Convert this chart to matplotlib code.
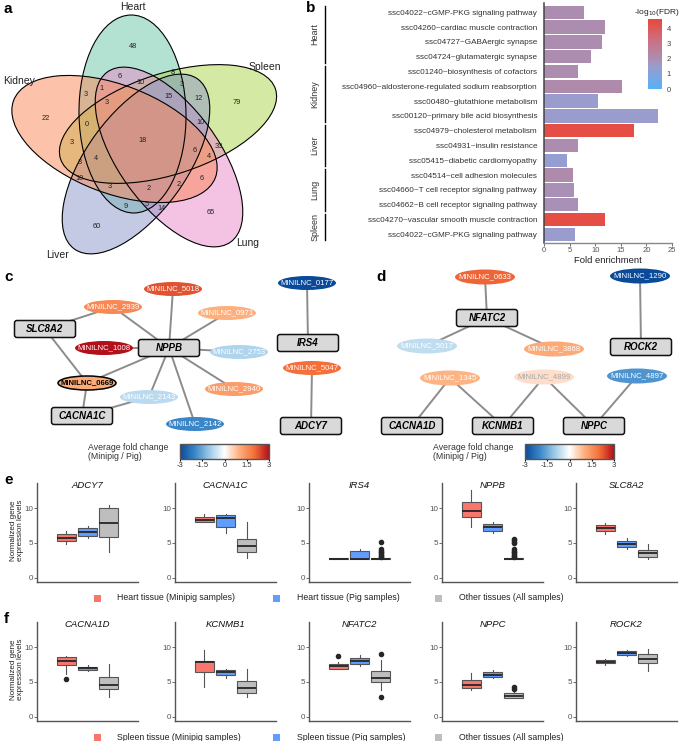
import numpy as np
import matplotlib
matplotlib.use('Agg')
import matplotlib.pyplot as plt
from matplotlib.patches import Ellipse, FancyBboxPatch, Rectangle
from matplotlib.colors import LinearSegmentedColormap, Normalize
from matplotlib.cm import ScalarMappable
import matplotlib.transforms as mtransforms

plt.rcParams['font.family'] = ['Liberation Sans', 'DejaVu Sans']

# ---------------- data ----------------
# a: venn
venn_sets = ['Heart', 'Spleen', 'Lung', 'Liver', 'Kidney']
venn_colors = ['#6bc7a7', '#abd54b', '#eb87c9', '#8b97c9', '#fb8957']
venn_counts = [48, 8, 6, 10, 3, 3, 1, 15, 12, 79, 3, 22, 0, 10, 18, 3,
               33, 6, 4, 3, 4, 10, 6, 3, 2, 2, 9, 5, 14, 65, 60]

# b: KEGG enrichment
pathways = ['ssc04022~cGMP-PKG signaling pathway',
            'ssc04260~cardiac muscle contraction',
            'ssc04727~GABAergic synapse',
            'ssc04724~glutamatergic synapse',
            'ssc01240~biosynthesis of cofactors',
            'ssc04960~aldosterone-regulated sodium reabsorption',
            'ssc00480~glutathione metabolism',
            'ssc00120~primary bile acid biosynthesis',
            'ssc04979~cholesterol metabolism',
            'ssc04931~insulin resistance',
            'ssc05415~diabetic cardiomyopathy',
            'ssc04514~cell adhesion molecules',
            'ssc04660~T cell receptor signaling pathway',
            'ssc04662~B cell receptor signaling pathway',
            'ssc04270~vascular smooth muscle contraction',
            'ssc04022~cGMP-PKG signaling pathway']
fold_enrichment = [7.8, 11.9, 11.3, 9.2, 6.7, 15.2, 10.5, 22.2,
                   17.5, 6.7, 4.4, 5.6, 5.9, 6.7, 12.0, 6.1]
neg_log_fdr = [2.0, 2.0, 2.0, 2.0, 2.0, 2.1, 1.5, 1.5,
               4.4, 2.0, 1.4, 2.1, 1.9, 1.9, 4.4, 1.5]
pathway_groups = ['Heart', 'Kidney', 'Liver', 'Lung', 'Spleen']
group_sizes = [4, 4, 3, 3, 2]

# c / d: networks (fold change minipig / pig)
c_lnc = ['MINILNC_5018', 'MINILNC_2939', 'MINILNC_0971', 'MINILNC_1008',
         'MINILNC_2753', 'MINILNC_0669', 'MINILNC_2940', 'MINILNC_2143',
         'MINILNC_2142', 'MINILNC_0177', 'MINILNC_5047']
c_fc = [2.3, 1.6, 1.0, 3.0, -0.8, 1.1, 1.3, -0.7, -2.0, -3.0, 2.0]
c_genes = ['SLC8A2', 'NPPB', 'CACNA1C', 'IRS4', 'ADCY7']
c_edges = [('MINILNC_5018', 'NPPB'), ('MINILNC_2939', 'NPPB'), ('MINILNC_2939', 'SLC8A2'),
           ('MINILNC_0971', 'NPPB'), ('MINILNC_1008', 'NPPB'), ('MINILNC_2753', 'NPPB'),
           ('MINILNC_2940', 'NPPB'), ('MINILNC_2143', 'NPPB'), ('MINILNC_2142', 'NPPB'),
           ('MINILNC_0669', 'NPPB'), ('MINILNC_0669', 'SLC8A2'), ('MINILNC_0669', 'CACNA1C'),
           ('MINILNC_2143', 'CACNA1C'), ('MINILNC_0177', 'IRS4'), ('MINILNC_5047', 'ADCY7')]

d_lnc = ['MINILNC_0633', 'MINILNC_1290', 'MINILNC_5017', 'MINILNC_3868',
         'MINILNC_1345', 'MINILNC_4899', 'MINILNC_4897']
d_fc = [2.1, -3.0, -0.65, 1.1, 0.95, 0.4, -1.8]
d_genes = ['NFATC2', 'ROCK2', 'CACNA1D', 'KCNMB1', 'NPPC']
d_edges = [('MINILNC_0633', 'NFATC2'), ('NFATC2', 'MINILNC_5017'), ('NFATC2', 'MINILNC_3868'),
           ('MINILNC_1290', 'ROCK2'), ('MINILNC_1345', 'CACNA1D'), ('MINILNC_1345', 'KCNMB1'),
           ('MINILNC_4899', 'KCNMB1'), ('MINILNC_4899', 'NPPC'), ('MINILNC_4897', 'NPPC')]

# e / f: boxplots, per gene -> [minipig, pig, other] as [whislo, q1, med, q3, whishi]
e_genes = ['ADCY7', 'CACNA1C', 'IRS4', 'NPPB', 'SLC8A2']
e_boxes = [[[4.86, 5.29, 5.77, 6.25, 6.7], [5.67, 6.06, 6.54, 7.1, 7.45], [3.75, 5.9, 7.88, 10.0, 10.48]],
           [[7.98, 7.98, 8.27, 8.8, 9.13], [6.39, 7.26, 8.65, 9.04, 9.18], [2.79, 3.7, 4.52, 5.63, 7.98]],
           [[2.74, 2.74, 2.74, 2.76, 2.76], [2.74, 2.74, 2.74, 3.8, 4.09], [2.74, 2.74, 2.74, 2.76, 2.76]],
           [[7.36, 8.8, 9.66, 10.96, 12.64], [6.49, 6.73, 7.36, 7.74, 7.98], [2.74, 2.74, 2.74, 2.76, 2.76]],
           [[6.25, 6.73, 7.21, 7.6, 7.84], [4.09, 4.42, 4.9, 5.29, 5.67], [2.74, 3.03, 3.51, 3.94, 4.86]]]
e_fliers = [[[], [], []], [[], [], []],
            [[], [], [2.9, 3.1, 3.3, 3.5, 3.7, 3.9, 4.05, 5.14]],
            [[], [], [2.9, 3.1, 3.3, 3.5, 3.7, 3.9, 4.1, 4.95, 5.2, 5.45, 5.6]],
            [[], [], []]]
e_legend = ['Heart tissue (Minipig samples)', 'Heart tissue (Pig samples)', 'Other tissues (All samples)']

f_genes = ['CACNA1D', 'KCNMB1', 'NFATC2', 'NPPC', 'ROCK2']
f_boxes = [[[6.18, 7.44, 7.97, 8.55, 8.74], [6.62, 6.71, 6.96, 7.2, 7.39], [2.8, 3.96, 4.59, 5.7, 7.58]],
           [[4.25, 6.43, 7.83, 7.97, 9.66], [5.51, 5.99, 6.38, 6.67, 6.81], [2.85, 3.38, 4.11, 5.17, 6.91]],
           [[6.91, 6.91, 7.25, 7.58, 7.87], [7.25, 7.63, 8.07, 8.5, 8.84], [3.86, 5.02, 5.6, 6.62, 8.21]],
           [[3.77, 4.11, 4.59, 5.31, 6.28], [5.51, 5.75, 6.04, 6.43, 6.67], [2.66, 2.66, 2.9, 3.38, 3.77]],
           [[7.49, 7.73, 7.92, 8.16, 8.36], [8.7, 8.84, 9.18, 9.47, 9.66], [6.52, 7.73, 8.36, 9.08, 9.81]]]
f_fliers = [[[5.36], [], []], [[], [], []], [[8.79], [], [9.08, 2.75]],
            [[], [], [4.25, 4.0]], [[], [], []]]
f_legend = ['Spleen tissue (Minipig samples)', 'Spleen tissue (Pig samples)', 'Other tissues (All samples)']
box_colors = ['#f8766d', '#619cff', '#bebebe']

# ---------------- figure ----------------
W, H = 685, 741
fig = plt.figure(figsize=(W / 100, H / 100), dpi=100)


def rect(x0, y0, x1, y1):
    return [x0 / W, 1 - y1 / H, (x1 - x0) / W, (y1 - y0) / H]


ov = fig.add_axes([0, 0, 1, 1])
ov.set_xlim(0, W)
ov.set_ylim(H, 0)
ov.axis('off')

# panel letters
for lab, (px, py) in zip('abcdef', [(4, 9), (306, 8), (4, 277), (376, 277), (4, 480), (4, 619)]):
    ov.text(px, py, lab, fontsize=11, fontweight='bold', ha='left', va='center')

# ---- a: venn
ell_geom = [(132.5, 114, 107, 198, -1), (168, 124, 226, 101, -18), (169, 157, 210, 100, 54),
            (136, 164, 210, 100, -54), (114.5, 139, 216, 108, 21)]
for (cx, cy, w, h, ang), col in zip(ell_geom, venn_colors):
    ov.add_patch(Ellipse((cx, cy), w, h, angle=ang, facecolor=col, alpha=0.5, edgecolor='none'))
for (cx, cy, w, h, ang) in ell_geom:
    ov.add_patch(Ellipse((cx, cy), w, h, angle=ang, facecolor='none', edgecolor='black', lw=0.8))
set_label_pos = [(133, 7), (265, 67), (248, 243), (58, 255), (19, 81)]
for name, (px, py) in zip(venn_sets, set_label_pos):
    ov.text(px, py, name, fontsize=7.5, ha='center', va='center', color='#222222')
count_pos = [(133, 47), (173, 73), (120, 76), (141, 83), (182, 85), (86, 94), (101, 89), (168, 97),
             (199, 98), (237, 102), (107, 103), (46, 118), (87, 124), (201, 122), (143, 140),
             (72, 142), (219, 146), (195, 151), (209, 156), (80, 162), (96, 159), (80, 178),
             (202, 179), (110, 187), (149, 189), (179, 185), (126, 206), (147, 204), (162, 209),
             (211, 212), (97, 227)]
for n, (px, py) in zip(venn_counts, count_pos):
    ov.text(px, py, str(n), fontsize=5.3, ha='center', va='center', color='#222222')

# ---- b: bars
cmap_b = LinearSegmentedColormap.from_list('fdr', [(0, '#56b1f7'), (0.33, '#9a9ccc'), (0.45, '#ae8bab'),
                                                   (0.7, '#cc6f83'), (1, '#e8483a')])
norm_b = Normalize(0, 4.6)
axb = fig.add_axes(rect(544, 3.4, 672, 243.2))
axb.patch.set_alpha(0)
yb = np.arange(len(pathways))
axb.barh(yb, fold_enrichment, height=0.9, color=cmap_b(norm_b(np.array(neg_log_fdr))))
axb.set_ylim(len(pathways) - 0.4, -0.6)
axb.set_xlim(0, 25)
axb.set_yticks(yb, pathways, fontsize=5.9, color='#333333')
axb.set_xticks(range(0, 26, 5))
axb.tick_params(axis='x', labelsize=5.5, labelcolor='#555555', length=2, width=0.6, pad=1, color='#555555')
axb.tick_params(axis='y', length=0, pad=5)
axb.set_xlabel('Fold enrichment', fontsize=6.8, color='#222222', labelpad=1)
for s in ['top', 'right']:
    axb.spines[s].set_visible(False)
axb.spines['left'].set_color('#444444')
axb.spines['bottom'].set_color('#888888')
axb.spines['left'].set_linewidth(1.1)
axb.spines['bottom'].set_linewidth(1.0)
trb = mtransforms.blended_transform_factory(axb.transAxes, axb.transData)
start = 0
for g, n in zip(pathway_groups, group_sizes):
    y0, y1 = start - 0.4, start + n - 1 + 0.4
    axb.plot([-1.711, -1.711], [y0, y1], color='black', lw=1.0, transform=trb, clip_on=False)
    axb.text(-1.79, (y0 + y1) / 2, g, rotation=90, ha='center', va='center', fontsize=6.5,
             color='#333333', transform=trb)
    start += n

caxb = fig.add_axes(rect(648, 19, 662, 89))
cbb = fig.colorbar(ScalarMappable(norm=norm_b, cmap=cmap_b), cax=caxb, ticks=[0, 1, 2, 3, 4])
cbb.outline.set_visible(False)
caxb.tick_params(labelsize=5.5, labelcolor='#444444', length=2, color='white', pad=1.5)
ov.text(657, 12, '-log$_{10}$(FDR)', fontsize=6, ha='center', va='center', color='#222222')

# ---- c / d: networks
cmap_fc = LinearSegmentedColormap.from_list('fc', [(0, '#0b4a98'), (1 / 6, '#3b87c8'), (2 / 6, '#9ecae8'),
                                                  (0.5, '#ffffff'), (4 / 6, '#fdb07e'), (5 / 6, '#f5703a'),
                                                  (1, '#b2101a')])
norm_fc = Normalize(-3, 3)

c_pos = {'MINILNC_5018': (173, 289), 'MINILNC_2939': (113, 307), 'MINILNC_0971': (227, 313),
         'MINILNC_1008': (104, 348), 'MINILNC_2753': (239, 352), 'MINILNC_0669': (87, 383),
         'MINILNC_2940': (234, 389), 'MINILNC_2143': (149, 397), 'MINILNC_2142': (195, 424),
         'MINILNC_0177': (307, 283), 'MINILNC_5047': (312, 368),
         'SLC8A2': (45, 329), 'NPPB': (169, 348), 'CACNA1C': (82, 416), 'IRS4': (308, 343),
         'ADCY7': (311, 426)}
d_pos = {'MINILNC_0633': (485, 277), 'MINILNC_1290': (640, 276), 'MINILNC_5017': (427, 346),
         'MINILNC_3868': (554, 349), 'MINILNC_1345': (450, 378), 'MINILNC_4899': (544, 377),
         'MINILNC_4897': (637, 376),
         'NFATC2': (487, 318), 'ROCK2': (641, 347), 'CACNA1D': (412, 426), 'KCNMB1': (503, 426),
         'NPPC': (594, 426)}


def draw_network(lnc, fc, genes, edges, pos, ew, eh):
    for a, b in edges:
        (x0, y0), (x1, y1) = pos[a], pos[b]
        ov.plot([x0, x1], [y0, y1], color='#8c8c8c', lw=1.4, zorder=1, solid_capstyle='butt')
    for name, v in zip(lnc, fc):
        x, y = pos[name]
        special = name == 'MINILNC_0669'
        ov.add_patch(Ellipse((x, y), ew, eh, facecolor=cmap_fc(norm_fc(v)),
                             edgecolor='black' if special else 'none', lw=1.1, zorder=2))
        tcol = 'black' if special else ('#a8a8a8' if name == 'MINILNC_4899' else 'white')
        ov.text(x, y, name, fontsize=5.6, color=tcol, ha='center', va='center', zorder=3,
                fontweight='bold' if special else 'normal')
    for g in genes:
        x, y = pos[g]
        ov.add_patch(FancyBboxPatch((x - 30.5, y - 8.5), 61, 17, boxstyle='round,pad=0,rounding_size=2.5',
                                    facecolor='#d9d9d9', edgecolor='#111111', lw=1.1, zorder=2))
        ov.text(x, y, g, fontsize=7, fontweight='bold', fontstyle='italic', ha='center', va='center', zorder=3)


draw_network(c_lnc, c_fc, c_genes, c_edges, c_pos, 58, 14)
draw_network(d_lnc, d_fc, d_genes, d_edges, d_pos, 60, 15)

for tx, cx0 in [(88, 180), (433, 525)]:
    ov.text(tx, 452, 'Average fold change\n(Minipig / Pig)', fontsize=6.3, ha='left', va='center',
            color='#333333', linespacing=1.1)
    cax = fig.add_axes(rect(cx0, 444, cx0 + 89, 459))
    cb = fig.colorbar(ScalarMappable(norm=norm_fc, cmap=cmap_fc), cax=cax, orientation='horizontal',
                      ticks=[-3, -1.5, 0, 1.5, 3])
    cb.set_ticklabels(['-3', '-1.5', '0', '1.5', '3'])
    cb.outline.set_edgecolor('#555555')
    cb.outline.set_linewidth(1.0)
    cax.tick_params(labelsize=5.5, labelcolor='#333333', length=1.5, pad=1)

# ---- e / f: boxplots
ax_left = [37, 175, 309, 442, 576]


def draw_boxes(genes, boxes, fliers, top, bottom, legend_labels, legend_y):
    for i, g in enumerate(genes):
        ax = fig.add_axes(rect(ax_left[i], top, ax_left[i] + 101, bottom))
        ax.patch.set_alpha(0)
        stats = []
        for j in range(3):
            lo, q1, med, q3, hi = boxes[i][j]
            stats.append(dict(whislo=lo, q1=q1, med=med, q3=q3, whishi=hi, fliers=fliers[i][j]))
        bp = ax.bxp(stats, positions=[1, 2, 3], widths=0.9, patch_artist=True, showcaps=False,
                    boxprops=dict(edgecolor='#555555', linewidth=0.8),
                    whiskerprops=dict(color='#555555', linewidth=0.8),
                    medianprops=dict(color='#262626', linewidth=1.3),
                    flierprops=dict(marker='o', markersize=3, markerfacecolor='#262626',
                                    markeredgecolor='#262626'))
        for patch, col in zip(bp['boxes'], box_colors):
            patch.set_facecolor(col)
        ax.set_xlim(-0.4, 4.4)
        ax.set_ylim(-0.65, 13.65)
        ax.set_xticks([])
        ax.set_yticks([0, 5, 10])
        ax.tick_params(axis='y', labelsize=5.8, labelcolor='#555555', length=2, width=0.6,
                       color='#555555', pad=1)
        for s in ['top', 'right']:
            ax.spines[s].set_visible(False)
        for s in ['left', 'bottom']:
            ax.spines[s].set_color('#555555')
            ax.spines[s].set_linewidth(1.0)
        ax.text(0.5, 0.975, g, transform=ax.transAxes, fontsize=6.8, fontstyle='italic',
                ha='center', va='center', color='#111111')
    ov.text(17, (top + bottom) / 2 - 2, 'Normalized gene\nexpression levels', rotation=90, fontsize=5.8,
            ha='center', va='center', color='#222222', linespacing=1.0)
    for (sx, tx), col, lab in zip([(98, 117), (277, 297), (439, 459)], box_colors, legend_labels):
        ov.add_patch(Rectangle((sx - 3.5, legend_y - 3.5), 7, 7, facecolor=col, edgecolor='none'))
        ov.text(tx, legend_y, lab, fontsize=6.3, ha='left', va='center', color='#222222')


draw_boxes(e_genes, e_boxes, e_fliers, 483, 582, e_legend, 598)
draw_boxes(f_genes, f_boxes, f_fliers, 622, 721, f_legend, 737)

fig.savefig('out.png', dpi=100)
